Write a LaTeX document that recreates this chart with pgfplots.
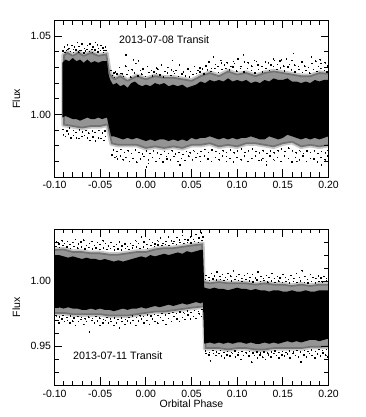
\documentclass[border=0pt]{standalone}
\usepackage{pgfplots}
\pgfplotsset{compat=1.18}
\usepackage{fontspec}
\setmainfont{Liberation Sans}
\pgfplotsset{
 panel/.style={
  scale only axis, width=274pt, height=156.5pt,
  xmin=-0.1, xmax=0.2,
  axis on top, axis line style={line width=0.9pt},
  tick align=inside, ticks=both,
  every tick/.style={black,line width=0.7pt},
  major tick length=8pt, minor tick length=4.5pt,
  xtick={-0.1,-0.05,0,0.05,0.1,0.15,0.2},
  xticklabels={-0.10,-0.05,0.00,0.05,0.10,0.15,0.20},
  minor xtick={-0.09,-0.08,-0.07,-0.06,-0.04,-0.03,-0.02,-0.01,0.01,0.02,0.03,0.04,0.06,0.07,0.08,0.09,0.11,0.12,0.13,0.14,0.16,0.17,0.18,0.19},
  tick label style={font=\fontsize{10.5}{12}\selectfont},
  xticklabel style={yshift=-1pt},
  ylabel style={font=\fontsize{10.5}{12}\selectfont, at={(axis description cs:-0.139,0.5)}, anchor=center},
  xlabel style={font=\fontsize{10.5}{12}\selectfont, at={(axis description cs:0.5,-0.118)}, anchor=center},
  clip=true,
 },
 dots/.style={only marks, mark=square*, mark size=0.2pt, mark options={draw=none,fill=black,line width=0pt,fill opacity=0.8}, black},
 inner/.style={fill=black, fill opacity=0.42, draw=black, draw opacity=0.22, line width=3.5pt, line join=round},
}
\begin{document}
\begin{tikzpicture}[x=1pt,y=1pt]
\path[use as bounding box] (0,0) rectangle (365,417);
\begin{axis}[panel, at={(54.5pt,240pt)}, anchor=south west, ymin=0.96, ymax=1.06,
  ytick={1.00,1.05}, yticklabels={1.00,1.05},
  minor ytick={0.97,0.98,0.99,1.01,1.02,1.03,1.04}, ylabel={Flux}]
\addplot[inner] coordinates {
(-0.0905,0.993)(-0.0905,1.038)(-0.086,1.040)(-0.08,1.038)(-0.074,1.040)(-0.068,1.038)(-0.06,1.040)(-0.052,1.038)(-0.0425,1.039)(-0.039,1.026)(-0.034,1.023)(-0.028,1.025)(-0.02,1.022)(-0.01,1.025)(0.00,1.023)(0.01,1.025)(0.02,1.024)(0.03,1.024)(0.04,1.023)(0.05,1.022)(0.06,1.025)(0.07,1.027)(0.08,1.025)(0.09,1.028)(0.10,1.026)(0.11,1.027)(0.12,1.025)(0.13,1.027)(0.14,1.028)(0.15,1.027)(0.16,1.026)(0.17,1.025)(0.18,1.025)(0.19,1.027)(0.21,1.026)
(0.21,0.981)(0.19,0.979)(0.18,0.980)(0.17,0.979)(0.16,0.982)(0.15,0.981)(0.14,0.979)(0.13,0.980)(0.12,0.981)(0.11,0.981)(0.10,0.979)(0.09,0.980)(0.08,0.979)(0.07,0.981)(0.06,0.980)(0.05,0.980)(0.04,0.978)(0.03,0.979)(0.02,0.978)(0.01,0.979)(0.00,0.978)(-0.01,0.980)(-0.02,0.980)(-0.03,0.980)(-0.038,0.981)(-0.0425,0.993)(-0.05,0.992)(-0.06,0.992)(-0.07,0.991)(-0.08,0.992)} --cycle;
\addplot[fill=black, draw=none] coordinates {
(-0.0915,0.998)(-0.0915,1.033)(-0.088,1.035)(-0.084,1.034)(-0.080,1.036)(-0.076,1.034)(-0.072,1.035)(-0.068,1.033)(-0.064,1.035)(-0.060,1.033)(-0.056,1.034)(-0.052,1.033)(-0.048,1.034)(-0.0425,1.034)(-0.041,1.026)(-0.039,1.022)(-0.036,1.019)(-0.032,1.020)(-0.028,1.018)(-0.024,1.019)(-0.020,1.017)(-0.016,1.020)(-0.012,1.021)(-0.008,1.019)(-0.004,1.018)(0.000,1.019)(0.005,1.018)(0.010,1.020)(0.015,1.019)(0.020,1.020)(0.025,1.018)(0.030,1.019)(0.035,1.018)(0.040,1.019)(0.045,1.017)(0.050,1.018)(0.055,1.019)(0.060,1.021)(0.065,1.020)(0.070,1.022)(0.075,1.021)(0.080,1.022)(0.085,1.021)(0.090,1.023)(0.095,1.021)(0.100,1.022)(0.105,1.021)(0.110,1.022)(0.115,1.020)(0.120,1.021)(0.125,1.020)(0.130,1.022)(0.135,1.021)(0.140,1.023)(0.145,1.022)(0.150,1.022)(0.155,1.023)(0.160,1.021)(0.165,1.021)(0.170,1.020)(0.175,1.021)(0.180,1.020)(0.185,1.022)(0.190,1.021)(0.195,1.022)(0.200,1.022)
(0.200,0.986)(0.195,0.985)(0.190,0.984)(0.185,0.985)(0.180,0.984)(0.175,0.985)(0.170,0.984)(0.165,0.985)(0.160,0.986)(0.155,0.987)(0.150,0.985)(0.145,0.984)(0.140,0.985)(0.135,0.986)(0.130,0.984)(0.125,0.984)(0.120,0.985)(0.115,0.986)(0.110,0.985)(0.105,0.985)(0.100,0.984)(0.095,0.985)(0.090,0.984)(0.085,0.985)(0.080,0.984)(0.075,0.985)(0.070,0.986)(0.065,0.985)(0.060,0.985)(0.055,0.984)(0.050,0.985)(0.045,0.983)(0.040,0.984)(0.035,0.983)(0.030,0.984)(0.025,0.983)(0.020,0.984)(0.015,0.984)(0.010,0.983)(0.005,0.984)(0.000,0.983)(-0.005,0.984)(-0.010,0.985)(-0.015,0.984)(-0.020,0.985)(-0.025,0.984)(-0.030,0.985)(-0.035,0.986)(-0.038,0.986)(-0.0415,0.995)(-0.0425,0.998)(-0.048,0.997)(-0.052,0.998)(-0.056,0.997)(-0.060,0.997)(-0.064,0.998)(-0.068,0.997)(-0.072,0.996)(-0.076,0.997)(-0.080,0.997)(-0.084,0.998)(-0.088,0.999)} --cycle;
\addplot[dots] coordinates {
(-0.0137,1.0349)(-0.0082,1.0343)(-0.0217,1.038)(0.0294,1.0345)(0.0739,1.0366)(0.1068,1.0381)(0.1615,1.0388)(0.1816,1.0366)(0.1907,1.0349)(0.083,1.0328)(0.0958,1.0339)(0.1213,1.0339)(0.1396,1.0353)(0.1487,1.0349)(0.0593,1.0296)(0.03,1.0275)(0.0119,1.0296)
(-0.089,1.043)(-0.087,1.041)(-0.084,1.042)(-0.081,1.044)(-0.078,1.043)(-0.075,1.046)(-0.072,1.041)(-0.070,1.045)(-0.067,1.042)(-0.064,1.044)(-0.061,1.045)(-0.058,1.043)(-0.055,1.046)(-0.052,1.042)(-0.049,1.044)(-0.046,1.041)(-0.044,1.043)(-0.086,1.0445)(-0.079,1.0415)(-0.073,1.0435)(-0.066,1.0405)(-0.059,1.0415)(-0.053,1.0445)(-0.047,1.0425)
(-0.0905,1.0405)(-0.0885,1.0395)(-0.0855,1.0415)(-0.0825,1.0402)(-0.0795,1.0395)(-0.0765,1.0412)(-0.0735,1.0398)(-0.0705,1.0408)(-0.0675,1.0392)(-0.0645,1.0415)(-0.0615,1.0402)(-0.0585,1.0395)(-0.0555,1.0412)(-0.0525,1.0398)(-0.0495,1.0408)(-0.0465,1.0395)(-0.0435,1.041)
(-0.038,1.028)(-0.035,1.0265)(-0.033,1.027)(-0.029,1.030)(-0.026,1.026)(-0.022,1.031)(-0.019,1.028)(-0.015,1.0285)(-0.011,1.0325)(-0.006,1.028)(-0.003,1.029)(0.002,1.0305)(0.006,1.028)(0.009,1.027)(0.013,1.029)(0.017,1.0315)(0.021,1.0275)(0.024,1.030)(0.028,1.0285)(0.033,1.028)(0.037,1.0315)(0.041,1.027)(0.046,1.029)(0.049,1.0275)(0.053,1.0305)(0.057,1.028)(0.062,1.029)(0.066,1.031)(0.069,1.0335)(0.072,1.0295)(0.076,1.032)(0.079,1.0305)(0.082,1.0345)(0.086,1.0315)(0.089,1.033)(0.093,1.0305)(0.097,1.0325)(0.101,1.0355)(0.104,1.0305)(0.108,1.0335)(0.112,1.033)(0.116,1.031)(0.119,1.0345)(0.123,1.0315)(0.127,1.0305)(0.131,1.0335)(0.134,1.033)(0.137,1.0315)(0.141,1.0345)(0.144,1.032)(0.147,1.034)(0.151,1.031)(0.154,1.0355)(0.157,1.032)(0.160,1.0345)(0.163,1.0315)(0.167,1.0305)(0.171,1.0335)(0.174,1.031)(0.178,1.030)(0.182,1.0325)(0.186,1.034)(0.189,1.0305)(0.192,1.0325)(0.196,1.033)(0.199,1.031)
(-0.0365,1.0248)(-0.0345,1.0235)(-0.0315,1.0258)(-0.0275,1.0262)(-0.0245,1.0242)(-0.0205,1.0255)(-0.0165,1.0238)(-0.0125,1.0265)(-0.0085,1.0245)(-0.0045,1.0258)(-0.0005,1.0242)(0.0035,1.0268)(0.0075,1.0245)(0.0115,1.0262)(0.0155,1.0252)(0.0195,1.0238)(0.0235,1.0265)(0.0275,1.0248)(0.0315,1.0262)(0.0355,1.0242)(0.0395,1.0258)(0.0435,1.0245)(0.0475,1.0238)(0.0515,1.0255)(0.0555,1.0262)(0.0595,1.0272)(0.0635,1.0258)(0.0675,1.0285)(0.0715,1.0275)(0.0755,1.0292)(0.0795,1.0268)(0.0835,1.0288)(0.0875,1.0295)(0.0915,1.0285)(0.0955,1.0302)(0.0995,1.0278)(0.1035,1.0292)(0.1075,1.0272)(0.1115,1.0295)(0.1155,1.0282)(0.1195,1.0265)(0.1235,1.0288)(0.1275,1.0272)(0.1315,1.0295)(0.1355,1.0282)(0.1395,1.0305)(0.1435,1.0288)(0.1475,1.0298)(0.1515,1.0278)(0.1555,1.0302)(0.1595,1.0285)(0.1635,1.0272)(0.1675,1.0288)(0.1715,1.0268)(0.1755,1.0282)(0.1795,1.0265)(0.1835,1.0288)(0.1875,1.0275)(0.1915,1.0295)(0.1955,1.0282)(0.1985,1.0272)
};
\addplot[dots] coordinates {
(0.0009,0.9665)(0.0027,0.9687)(0.0374,0.9676)(0.1323,0.9676)(0.1268,0.9708)(0.1925,0.9676)(-0.0319,0.973)(0.0228,0.973)(0.0593,0.973)(0.0885,0.973)(0.1652,0.9698)
(-0.090,0.987)(-0.088,0.986)(-0.085,0.9875)(-0.082,0.985)(-0.079,0.9865)(-0.076,0.985)(-0.073,0.9845)(-0.070,0.986)(-0.067,0.9865)(-0.064,0.985)(-0.061,0.9835)(-0.058,0.9855)(-0.055,0.983)(-0.052,0.985)(-0.049,0.9845)(-0.046,0.9835)(-0.044,0.986)
(-0.0905,0.9905)(-0.0865,0.9895)(-0.0835,0.9912)(-0.0795,0.9898)(-0.0765,0.9885)(-0.0725,0.9902)(-0.0695,0.9888)(-0.0655,0.9898)(-0.0625,0.9882)(-0.0585,0.9895)(-0.0555,0.9885)(-0.0515,0.9898)(-0.0475,0.9882)(-0.0445,0.9895)
(-0.037,0.974)(-0.034,0.9725)(-0.031,0.9715)(-0.028,0.9735)(-0.025,0.971)(-0.022,0.9725)(-0.018,0.970)(-0.014,0.972)(-0.010,0.9695)(-0.006,0.9715)(-0.002,0.973)(0.003,0.971)(0.007,0.9725)(0.011,0.970)(0.015,0.972)(0.019,0.9695)(0.023,0.9715)(0.027,0.971)(0.031,0.973)(0.035,0.970)(0.039,0.972)(0.043,0.9705)(0.047,0.9735)(0.051,0.971)(0.055,0.9725)(0.060,0.970)(0.064,0.9735)(0.068,0.9715)(0.072,0.970)(0.076,0.9725)(0.080,0.971)(0.084,0.9735)(0.088,0.970)(0.092,0.972)(0.096,0.9695)(0.100,0.9725)(0.104,0.971)(0.108,0.9735)(0.112,0.970)(0.116,0.972)(0.120,0.9735)(0.124,0.9705)(0.128,0.972)(0.132,0.970)(0.136,0.9735)(0.140,0.971)(0.144,0.9725)(0.148,0.970)(0.152,0.9735)(0.156,0.972)(0.160,0.9695)(0.164,0.9725)(0.168,0.971)(0.172,0.9735)(0.176,0.970)(0.180,0.972)(0.184,0.9715)(0.188,0.9695)(0.192,0.9725)(0.196,0.971)(0.199,0.9735)
(-0.0355,0.9772)(-0.0315,0.9762)(-0.0275,0.9775)(-0.0235,0.9758)(-0.0195,0.9768)(-0.0155,0.9752)(-0.0115,0.9772)(-0.0075,0.9758)(-0.0035,0.9748)(0.0005,0.9765)(0.0045,0.9752)(0.0085,0.9768)(0.0125,0.9755)(0.0165,0.9745)(0.0205,0.9762)(0.0245,0.9752)(0.0285,0.9768)(0.0325,0.9748)(0.0365,0.9758)(0.0405,0.9745)(0.0445,0.9762)(0.0485,0.9755)(0.0525,0.9768)(0.0565,0.9752)(0.0605,0.9762)(0.0645,0.9775)(0.0685,0.9758)(0.0725,0.9772)(0.0765,0.9762)(0.0805,0.9752)(0.0845,0.9768)(0.0885,0.9758)(0.0925,0.9772)(0.0965,0.9755)(0.1005,0.9765)(0.1045,0.9778)(0.1085,0.9758)(0.1125,0.9768)(0.1165,0.9778)(0.1205,0.9762)(0.1245,0.9755)(0.1285,0.9768)(0.1325,0.9752)(0.1365,0.9765)(0.1405,0.9755)(0.1445,0.9768)(0.1485,0.9778)(0.1525,0.9762)(0.1565,0.9785)(0.1605,0.9768)(0.1645,0.9755)(0.1685,0.9768)(0.1725,0.9752)(0.1765,0.9765)(0.1805,0.9758)(0.1845,0.9768)(0.1885,0.9752)(0.1925,0.9762)(0.1965,0.9755)(0.1995,0.9768)
};
\node[anchor=west,inner sep=0pt,font=\fontsize{10.7}{12}\selectfont] at (axis cs:-0.0294,1.0478) {2013-07-08 Transit};
\end{axis}
\begin{axis}[panel, at={(54.5pt,31.5pt)}, anchor=south west, ymin=0.92, ymax=1.04,
  ytick={0.95,1.00}, yticklabels={0.95,1.00},
  minor ytick={0.93,0.94,0.96,0.97,0.98,0.99,1.01,1.02,1.03}, ylabel={Flux}, xlabel={Orbital Phase}]
\addplot[inner] coordinates {
(-0.11,0.975)(-0.11,1.024)(-0.09,1.025)(-0.08,1.023)(-0.07,1.023)(-0.06,1.022)(-0.05,1.022)(-0.04,1.021)(-0.03,1.021)(-0.02,1.022)(-0.01,1.023)(0,1.023)(0.01,1.025)(0.02,1.026)(0.03,1.026)(0.04,1.027)(0.05,1.028)(0.0625,1.029)
(0.0635,1.000)(0.07,0.999)(0.08,1.000)(0.09,0.999)(0.10,0.999)(0.11,0.999)(0.12,0.998)(0.13,0.999)(0.14,0.998)(0.15,0.998)(0.16,0.997)(0.17,0.998)(0.18,0.997)(0.19,0.998)(0.21,0.998)
(0.21,0.950)(0.19,0.949)(0.18,0.949)(0.17,0.948)(0.16,0.948)(0.15,0.948)(0.14,0.948)(0.13,0.947)(0.12,0.947)(0.11,0.948)(0.10,0.948)(0.09,0.947)(0.08,0.948)(0.07,0.948)(0.0645,0.948)
(0.0635,0.980)(0.05,0.979)(0.04,0.978)(0.03,0.977)(0.02,0.976)(0.01,0.976)(0,0.975)(-0.01,0.974)(-0.02,0.973)(-0.03,0.973)(-0.04,0.973)(-0.05,0.974)(-0.06,0.974)(-0.07,0.974)(-0.08,0.974)(-0.09,0.975)} --cycle;
\addplot[fill=black, draw=none] coordinates {
(-0.1,0.980)(-0.1,1.019)(-0.095,1.020)(-0.090,1.019)(-0.085,1.018)(-0.080,1.019)(-0.075,1.018)(-0.070,1.017)(-0.065,1.018)(-0.060,1.017)(-0.055,1.017)(-0.050,1.016)(-0.045,1.017)(-0.040,1.016)(-0.035,1.015)(-0.030,1.016)(-0.025,1.015)(-0.020,1.016)(-0.015,1.017)(-0.010,1.018)(-0.005,1.019)(0.000,1.018)(0.005,1.020)(0.010,1.019)(0.015,1.020)(0.020,1.021)(0.025,1.020)(0.030,1.021)(0.035,1.022)(0.040,1.021)(0.045,1.023)(0.050,1.022)(0.055,1.023)(0.060,1.024)(0.0625,1.024)
(0.0640,0.995)(0.070,0.994)(0.075,0.995)(0.080,0.994)(0.085,0.994)(0.090,0.993)(0.095,0.994)(0.100,0.995)(0.105,0.994)(0.110,0.994)(0.115,0.993)(0.120,0.994)(0.125,0.993)(0.130,0.993)(0.135,0.992)(0.140,0.993)(0.145,0.993)(0.150,0.992)(0.155,0.992)(0.160,0.993)(0.165,0.992)(0.170,0.992)(0.175,0.993)(0.180,0.992)(0.185,0.992)(0.190,0.993)(0.195,0.993)(0.200,0.993)
(0.200,0.956)(0.195,0.955)(0.190,0.954)(0.185,0.955)(0.180,0.955)(0.175,0.954)(0.170,0.953)(0.165,0.954)(0.160,0.953)(0.155,0.954)(0.150,0.953)(0.145,0.952)(0.140,0.953)(0.135,0.952)(0.130,0.953)(0.125,0.952)(0.120,0.952)(0.115,0.953)(0.110,0.952)(0.105,0.953)(0.100,0.953)(0.095,0.952)(0.090,0.953)(0.085,0.952)(0.080,0.953)(0.075,0.952)(0.070,0.953)(0.0640,0.952)
(0.0625,0.984)(0.060,0.983)(0.055,0.984)(0.050,0.983)(0.045,0.982)(0.040,0.983)(0.035,0.982)(0.030,0.981)(0.025,0.982)(0.020,0.981)(0.015,0.980)(0.010,0.981)(0.005,0.980)(0.000,0.979)(-0.005,0.980)(-0.010,0.979)(-0.015,0.979)(-0.020,0.978)(-0.025,0.979)(-0.030,0.978)(-0.035,0.977)(-0.040,0.978)(-0.045,0.978)(-0.050,0.979)(-0.055,0.978)(-0.060,0.979)(-0.065,0.978)(-0.070,0.978)(-0.075,0.979)(-0.080,0.979)(-0.085,0.980)(-0.090,0.979)(-0.095,0.980)} --cycle;
\addplot[dots] coordinates {
(-0.098,1.030)(-0.095,1.0285)(-0.092,1.031)(-0.089,1.029)(-0.086,1.0305)(-0.083,1.028)(-0.080,1.0295)(-0.077,1.032)(-0.074,1.0285)(-0.071,1.030)(-0.068,1.0315)(-0.065,1.0275)(-0.062,1.029)(-0.059,1.0305)(-0.056,1.0275)(-0.053,1.0295)(-0.050,1.028)(-0.047,1.031)(-0.044,1.029)(-0.041,1.027)(-0.038,1.0295)(-0.035,1.0265)(-0.032,1.028)(-0.029,1.030)(-0.026,1.027)(-0.023,1.0285)(-0.020,1.0265)(-0.017,1.029)(-0.014,1.0275)(-0.011,1.031)(-0.008,1.029)(-0.005,1.034)(-0.002,1.030)(0.001,1.028)(0.004,1.032)(0.007,1.0295)(0.010,1.0285)(0.013,1.031)(0.016,1.033)(0.019,1.029)(0.022,1.0305)(0.025,1.034)(0.028,1.031)(0.031,1.0305)(0.034,1.0335)(0.037,1.0315)(0.040,1.035)(0.043,1.032)(0.046,1.0315)(0.049,1.034)(0.052,1.032)(0.055,1.036)(0.058,1.033)(0.061,1.037)(0.0625,1.034)
(0.066,1.0045)(0.069,1.003)(0.072,1.006)(0.075,1.004)(0.078,1.007)(0.081,1.0035)(0.084,1.005)(0.087,1.003)(0.090,1.006)(0.093,1.004)(0.096,1.008)(0.099,1.0035)(0.102,1.005)(0.105,1.002)(0.108,1.0045)(0.111,1.006)(0.114,1.003)(0.117,1.005)(0.120,1.0025)(0.123,1.007)(0.126,1.0035)(0.129,1.002)(0.132,1.0045)(0.135,1.003)(0.138,1.006)(0.141,1.002)(0.144,1.0035)(0.147,1.0025)(0.150,1.005)(0.153,1.003)(0.156,1.0015)(0.159,1.0045)(0.162,1.002)(0.165,1.006)(0.168,1.003)(0.171,1.008)(0.174,1.0035)(0.177,1.0015)(0.180,1.005)(0.183,1.003)(0.186,1.002)(0.189,1.004)(0.192,1.0025)(0.195,1.0035)(0.198,1.002)
(-0.0985,1.0265)(-0.0945,1.0258)(-0.0905,1.0272)(-0.0865,1.0262)(-0.0825,1.0252)(-0.0785,1.0268)(-0.0745,1.0255)(-0.0705,1.0262)(-0.0665,1.0248)(-0.0625,1.0258)(-0.0585,1.0248)(-0.0545,1.0255)(-0.0505,1.0245)(-0.0465,1.0255)(-0.0425,1.0242)(-0.0385,1.0252)(-0.0345,1.0238)(-0.0305,1.0248)(-0.0265,1.0238)(-0.0225,1.0252)(-0.0185,1.0242)(-0.0145,1.0255)(-0.0105,1.0262)(-0.0065,1.0252)(-0.0025,1.0262)(0.0015,1.0252)(0.0055,1.0272)(0.0095,1.0265)(0.0135,1.0278)(0.0175,1.0272)(0.0215,1.0282)(0.0255,1.0275)(0.0295,1.0288)(0.0335,1.0282)(0.0375,1.0295)(0.0415,1.0288)(0.0455,1.0298)(0.0495,1.0292)(0.0535,1.0305)(0.0575,1.0298)(0.0615,1.0312)
(0.0655,1.0012)(0.0695,1.0005)(0.0735,1.0018)(0.0775,1.0008)(0.0815,1.0015)(0.0855,1.0005)(0.0895,1.0012)(0.0935,1.0002)(0.0975,1.0015)(0.1015,1.0005)(0.1055,0.9998)(0.1095,1.0012)(0.1135,1.0002)(0.1175,0.9995)(0.1215,1.0008)(0.1255,0.9998)(0.1295,1.0005)(0.1335,0.9995)(0.1375,1.0002)(0.1415,0.9992)(0.1455,1.0002)(0.1495,0.9992)(0.1535,0.9998)(0.1575,0.9988)(0.1615,0.9998)(0.1655,0.9992)(0.1695,1.0002)(0.1735,0.9992)(0.1775,0.9985)(0.1815,0.9998)(0.1855,0.9988)(0.1895,0.9998)(0.1935,0.9992)(0.1975,1.0002)
};
\addplot[dots] coordinates {
(-0.098,0.970)(-0.095,0.968)(-0.092,0.971)(-0.089,0.969)(-0.086,0.970)(-0.083,0.968)(-0.080,0.9695)(-0.077,0.966)(-0.074,0.969)(-0.071,0.9705)(-0.068,0.967)(-0.065,0.969)(-0.062,0.961)(-0.059,0.970)(-0.056,0.968)(-0.053,0.9695)(-0.050,0.966)(-0.047,0.968)(-0.044,0.970)(-0.041,0.968)(-0.038,0.969)(-0.035,0.966)(-0.032,0.968)(-0.029,0.964)(-0.026,0.969)(-0.023,0.967)(-0.020,0.9695)(-0.017,0.968)(-0.014,0.970)(-0.011,0.966)(-0.008,0.9695)(-0.005,0.971)(-0.002,0.968)(0.001,0.970)(0.004,0.967)(0.007,0.971)(0.010,0.969)(0.013,0.968)(0.016,0.972)(0.019,0.970)(0.022,0.967)(0.025,0.9715)(0.028,0.969)(0.031,0.973)(0.034,0.971)(0.037,0.969)(0.040,0.972)(0.043,0.9705)(0.046,0.974)(0.049,0.971)(0.052,0.973)(0.055,0.9715)(0.058,0.975)(0.061,0.973)
(0.066,0.9445)(0.069,0.9435)(0.071,0.939)(0.074,0.9445)(0.077,0.943)(0.080,0.9445)(0.083,0.9425)(0.086,0.941)(0.089,0.9435)(0.092,0.9425)(0.095,0.9445)(0.098,0.942)(0.101,0.9435)(0.104,0.940)(0.107,0.943)(0.110,0.9445)(0.113,0.9425)(0.116,0.938)(0.119,0.943)(0.122,0.941)(0.125,0.9435)(0.128,0.942)(0.131,0.940)(0.134,0.9435)(0.137,0.942)(0.140,0.9445)(0.143,0.943)(0.146,0.941)(0.149,0.9435)(0.152,0.9425)(0.155,0.944)(0.158,0.941)(0.161,0.9445)(0.164,0.943)(0.167,0.942)(0.170,0.938)(0.173,0.9435)(0.176,0.942)(0.179,0.9445)(0.182,0.943)(0.185,0.941)(0.188,0.944)(0.191,0.9425)(0.194,0.945)(0.197,0.9435)(0.199,0.942)
(-0.0985,0.9735)(-0.0945,0.9725)(-0.0905,0.9738)(-0.0865,0.9722)(-0.0825,0.9732)(-0.0785,0.9718)(-0.0745,0.9728)(-0.0705,0.9722)(-0.0665,0.9712)(-0.0625,0.9725)(-0.0585,0.9715)(-0.0545,0.9728)(-0.0505,0.9718)(-0.0465,0.9708)(-0.0425,0.9722)(-0.0385,0.9712)(-0.0345,0.9718)(-0.0305,0.9705)(-0.0265,0.9718)(-0.0225,0.9708)(-0.0185,0.9722)(-0.0145,0.9732)(-0.0105,0.9722)(-0.0065,0.9735)(-0.0025,0.9728)(0.0015,0.9742)(0.0055,0.9732)(0.0095,0.9745)(0.0135,0.9738)(0.0175,0.9752)(0.0215,0.9742)(0.0255,0.9752)(0.0295,0.9762)(0.0335,0.9752)(0.0375,0.9765)(0.0415,0.9758)(0.0455,0.9772)(0.0495,0.9762)(0.0535,0.9775)(0.0575,0.9768)(0.0615,0.9782)
(0.0655,0.9465)(0.0695,0.9455)(0.0735,0.9468)(0.0775,0.9458)(0.0815,0.9468)(0.0855,0.9452)(0.0895,0.9462)(0.0935,0.9452)(0.0975,0.9465)(0.1015,0.9455)(0.1055,0.9462)(0.1095,0.9452)(0.1135,0.9462)(0.1175,0.9448)(0.1215,0.9458)(0.1255,0.9448)(0.1295,0.9458)(0.1335,0.9448)(0.1375,0.9458)(0.1415,0.9465)(0.1455,0.9452)(0.1495,0.9462)(0.1535,0.9455)(0.1575,0.9465)(0.1615,0.9458)(0.1655,0.9468)(0.1695,0.9458)(0.1735,0.9468)(0.1775,0.9462)(0.1815,0.9472)(0.1855,0.9462)(0.1895,0.9475)(0.1935,0.9468)(0.1975,0.9478)
};
\node[anchor=west,inner sep=0pt,font=\fontsize{10.7}{12}\selectfont] at (axis cs:-0.0797,0.9428) {2013-07-11 Transit};
\end{axis}
\end{tikzpicture}
\end{document}
